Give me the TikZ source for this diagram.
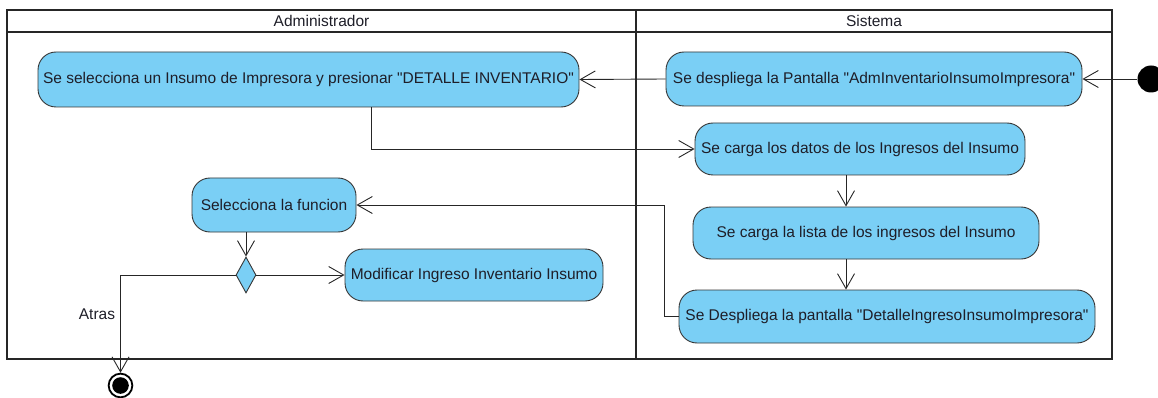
\documentclass[tikz,border=0pt]{standalone}
\usepackage{fontspec}
\setmainfont{Liberation Sans}
\usetikzlibrary{arrows.meta,shapes.geometric}
\definecolor{actfill}{RGB}{122,207,245}
\definecolor{actline}{RGB}{55,55,55}
\definecolor{txt}{RGB}{30,30,40}
\begin{document}
\begin{tikzpicture}[x=1pt,y=-1pt,
  act/.style={draw=actline, fill=actfill, rounded corners=18pt, line width=0.9pt,
    font=\fontsize{15.5}{17}\selectfont, text=txt, inner sep=0pt, minimum height=53pt},
  lane/.style={draw=black!85, line width=1.6pt},
  ttl/.style={font=\fontsize{15.5}{17}\selectfont, text=txt, inner sep=0pt},
  arr/.style={draw=black!85, line width=0.9pt, -{Straight Barb[length=15pt,width=17pt,line width=0.9pt]}},
  ]
\useasboundingbox (0,0) rectangle (1158,398);
% swimlanes
\draw[lane] (7,10) rectangle (636,359);
\draw[lane] (636,10) rectangle (1112,359);
\draw[lane] (7,32) -- (1112,32);
\node[ttl] (t1) at (321.5,21) {Administrador};
\node[ttl] (t2) at (874,21) {Sistema};
% activities
\node[act, minimum width=541pt, minimum height=55pt] (A) at (308.5,79.5) {Se selecciona un Insumo de Impresora y presionar \textquotedbl DETALLE INVENTARIO\textquotedbl};
\node[act, minimum width=416pt, minimum height=54pt] (B) at (874,79) {Se despliega la Pantalla \textquotedbl AdmInventarioInsumoImpresora\textquotedbl};
\node[act, minimum width=330pt, minimum height=52pt] (C) at (860,149) {Se carga los datos de los Ingresos del Insumo};
\node[act, minimum width=346pt, minimum height=52pt] (D) at (866,233) {Se carga la lista de los ingresos del Insumo};
\node[act, minimum width=416pt, minimum height=53pt] (E) at (887,316.5) {Se Despliega la pantalla \textquotedbl DetalleIngresoInsumoImpresora\textquotedbl};
\node[act, minimum width=164pt, minimum height=54pt] (F) at (274,205) {Selecciona la funcion};
\node[act, minimum width=258pt, minimum height=52pt] (G) at (474,275) {Modificar Ingreso Inventario Insumo};
\node[diamond, draw=actline, fill=actfill, line width=0.9pt, inner sep=0pt, minimum width=20pt, minimum height=36pt] (dia) at (246,275) {};
% start / end
\node[circle, fill=black, inner sep=0pt, minimum size=27pt] (start) at (1151,79) {};
\node[circle, draw=black, line width=1.8pt, fill=white, inner sep=0pt, minimum size=23.7pt] (end) at (120.5,385.5) {};
\fill[black] (end.center) circle (8.3pt);
% helper coordinates
\coordinate (ax) at (371,0);
\coordinate (cx) at (846,0);
\coordinate (ex) at (664,0);
% connectors
\draw[arr] (start) -- (B.east);
\draw[arr] (B.west) -- (A.east);
\draw[arr] (A.south -| ax) |- (C.west);
\draw[arr] (C.south -| cx) -- (D.north -| cx);
\draw[arr] (D.south -| cx) -- (E.north -| cx);
\draw[arr] (E.west) -- (E.west -| ex) |- (F.east);
\draw[arr] (F.south -| dia) -- (dia.north);
\draw[arr] (dia.east) -- (G.west);
\draw[arr] (dia.west) -| node[pos=0.7, left, ttl, inner sep=5pt] {Atras} (end.north);
\end{tikzpicture}
\end{document}
